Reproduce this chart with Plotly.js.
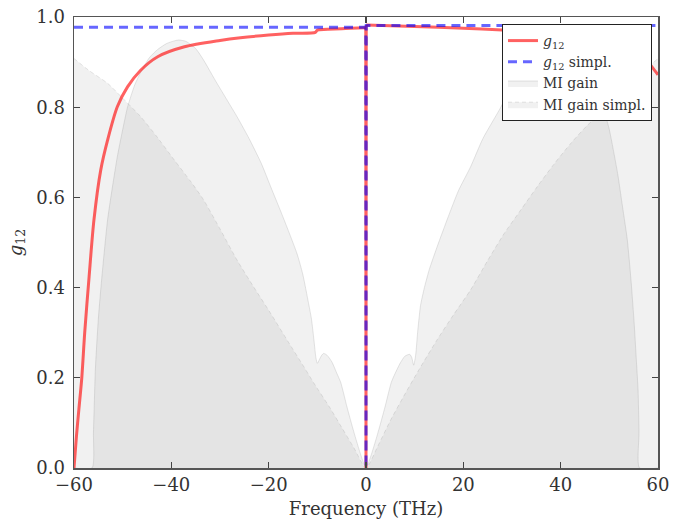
<!DOCTYPE html>
<html>
<head>
<meta charset="utf-8">
<script src="https://cdn.plot.ly/plotly-3.0.1.min.js"></script>
<style>
  html, body { margin: 0; padding: 0; background: #fff; }
  #chart { width: 690px; height: 519px; }
</style>
</head>
<body>
<div id="chart"></div>
<script>
// Coupling coefficient g12 (full model)
const g12Freq = [-60, -59.5, -59, -58.4, -57.8, -56.9, -55.9, -54.5, -53.1, -51.1, -49, -46.3, -42.8, -37.3, -30, -25.8, -20, -15, -10.4, -10, -5, -0.05,
                 0, 0.05, 10, 20, 28, 35, 42, 48, 52, 55, 57, 58, 59, 60];
const g12Vals = [0, 0.07, 0.13, 0.2, 0.3, 0.424, 0.55, 0.661, 0.727, 0.801, 0.845, 0.882, 0.912, 0.934, 0.948, 0.954, 0.96, 0.964, 0.966, 0.971, 0.974, 0.976,
                 0, 0.982, 0.979, 0.975, 0.971, 0.966, 0.958, 0.947, 0.935, 0.922, 0.91, 0.899, 0.886, 0.872];

// Coupling coefficient g12 (simplified model)
const g12sFreq = [-60, -0.05, 0, 0.05, 60];
const g12sVals = [0.977, 0.977, 0, 0.981, 0.981];

// Modulation-instability gain (full model), normalised
const miFreq = [-60, -56.3, -56.0, -55.6, -55.0, -54.3, -53.1, -52, -51.1, -50, -49, -47.5, -46.3, -44.5, -42.8, -41, -39.4, -38.5, -37, -35, -33.4, -31, -28.5, -26.5, -24, -21.5, -19.6, -17, -14.2, -13, -11.8, -11.2, -10.7, -10.3, -10.0, -9.6, -9.1, -8.7, -8.0, -7, -6, -5.2, -3.9, -2.5, -1.1,
                0,
                1.1, 2.5, 3.9, 5.2, 6, 7, 8, 9.0, 9.4, 9.8, 10.2, 10.6, 11.2, 12, 13, 14.6, 17, 19, 21.5, 24, 27.7, 30, 33, 36, 38.5, 40, 42, 44, 46, 48, 48.9, 50, 51.7, 52.7, 53.7, 54.5, 55.1, 55.6, 55.9, 56.1, 56.2, 60];
const miVals = [0, 0, 0.08, 0.22, 0.33, 0.42, 0.55, 0.63, 0.69, 0.75, 0.8, 0.85, 0.877, 0.91, 0.928, 0.941, 0.947, 0.949, 0.946, 0.93, 0.905, 0.86, 0.815, 0.779, 0.73, 0.675, 0.624, 0.555, 0.476, 0.43, 0.365, 0.33, 0.284, 0.245, 0.232, 0.24, 0.25, 0.254, 0.25, 0.235, 0.21, 0.19, 0.135, 0.08, 0.03,
                0,
                0.03, 0.08, 0.135, 0.19, 0.21, 0.232, 0.248, 0.252, 0.245, 0.228, 0.25, 0.3, 0.36, 0.4, 0.44, 0.49, 0.56, 0.615, 0.668, 0.73, 0.8, 0.85, 0.9, 0.935, 0.949, 0.947, 0.935, 0.91, 0.875, 0.825, 0.794, 0.75, 0.653, 0.58, 0.505, 0.41, 0.321, 0.23, 0.173, 0.08, 0, 0];

// Modulation-instability gain (simplified model), normalised
const miSFreq = [-60, -57, -53.1, -50, -46.3, -43, -39.4, -36, -33.4, -30, -26.5, -23, -19.6, -16, -12.8, -10.7, -7.5, -5, -2.5,
                 0,
                 2.5, 5, 7.8, 11, 14.6, 18, 21.5, 25, 28.4, 32, 35.2, 38.5, 42.1, 45.5, 48.9, 52, 56, 60];
const miSVals = [0.908, 0.882, 0.853, 0.82, 0.779, 0.735, 0.683, 0.635, 0.595, 0.53, 0.461, 0.4, 0.343, 0.28, 0.225, 0.188, 0.135, 0.09, 0.045,
                 0,
                 0.05, 0.105, 0.16, 0.22, 0.284, 0.34, 0.395, 0.46, 0.52, 0.575, 0.624, 0.672, 0.72, 0.76, 0.794, 0.83, 0.87, 0.908];

const serif = '"DejaVu Serif", serif';
const fillGray = 'rgba(128,128,128,0.11)';
const edgeGray = 'rgba(150,150,150,0.25)';
const red = 'rgba(255,0,0,0.62)';

// g12 has a singular drop at zero frequency: draw the two smooth branches
// as splines and the drop itself as straight segments.
const iz = g12Freq.indexOf(0);
const branchX = g12Freq.slice(0, iz).concat([null], g12Freq.slice(iz + 1));
const branchY = g12Vals.slice(0, iz).concat([null], g12Vals.slice(iz + 1));
const dropX = g12Freq.slice(iz - 1, iz + 2);
const dropY = g12Vals.slice(iz - 1, iz + 2);

const traces = [
  {
    x: miFreq, y: miVals, type: 'scatter', mode: 'lines',
    fill: 'tozeroy', fillcolor: fillGray,
    line: { color: edgeGray, width: 1, shape: 'spline', smoothing: 0.6 },
    name: 'MI gain', legendrank: 3
  },
  {
    x: miSFreq, y: miSVals, type: 'scatter', mode: 'lines',
    fill: 'tozeroy', fillcolor: fillGray,
    line: { color: edgeGray, width: 1, dash: '4px,3px', shape: 'spline', smoothing: 0.6 },
    name: 'MI gain simpl.', legendrank: 4
  },
  {
    x: dropX, y: dropY, type: 'scatter', mode: 'lines',
    line: { color: red, width: 3 },
    showlegend: false, hoverinfo: 'skip'
  },
  {
    x: branchX, y: branchY, type: 'scatter', mode: 'lines', connectgaps: false,
    line: { color: red, width: 3, shape: 'spline', smoothing: 0.8 },
    name: '<i>g</i><sub>12</sub>', legendrank: 1
  },
  {
    x: g12sFreq, y: g12sVals, type: 'scatter', mode: 'lines',
    line: { color: 'rgba(0,0,255,0.6)', width: 3, dash: '9px,6px' },
    name: '<i>g</i><sub>12</sub> simpl.', legendrank: 2
  }
];

const axisCommon = {
  showgrid: false, zeroline: false,
  showline: true, linecolor: '#555', linewidth: 1.5, mirror: 'ticks',
  ticks: 'inside', ticklen: 6, tickwidth: 1.2, tickcolor: '#444',
  tickfont: { family: serif, size: 18, color: '#333' }
};

const layout = {
  width: 690, height: 519,
  margin: { l: 74, r: 32, t: 17, b: 51 },
  paper_bgcolor: '#fff', plot_bgcolor: '#fff',
  showlegend: true,
  legend: {
    x: 0.9897, y: 0.9845, xanchor: 'right', yanchor: 'top',
    bgcolor: '#fff', bordercolor: '#222', borderwidth: 1,
    font: { family: serif, size: 14, color: '#333' },
    tracegroupgap: 0
  },
  xaxis: Object.assign({}, axisCommon, {
    range: [-60, 60], tickvals: [-60, -40, -20, 0, 20, 40, 60],
    title: { text: 'Frequency (THz)', font: { family: serif, size: 18, color: '#333' }, standoff: 9 }
  }),
  yaxis: Object.assign({}, axisCommon, {
    range: [0, 1], tickvals: [0, 0.2, 0.4, 0.6, 0.8, 1.0], tickformat: '.1f',
    ticklabelstandoff: 4,
    title: { text: '<i>g</i><sub>12</sub>', font: { family: serif, size: 18, color: '#333' }, standoff: 9 }
  })
};

Plotly.newPlot('chart', traces, layout, { displayModeBar: false, staticPlot: true });
</script>
</body>
</html>
